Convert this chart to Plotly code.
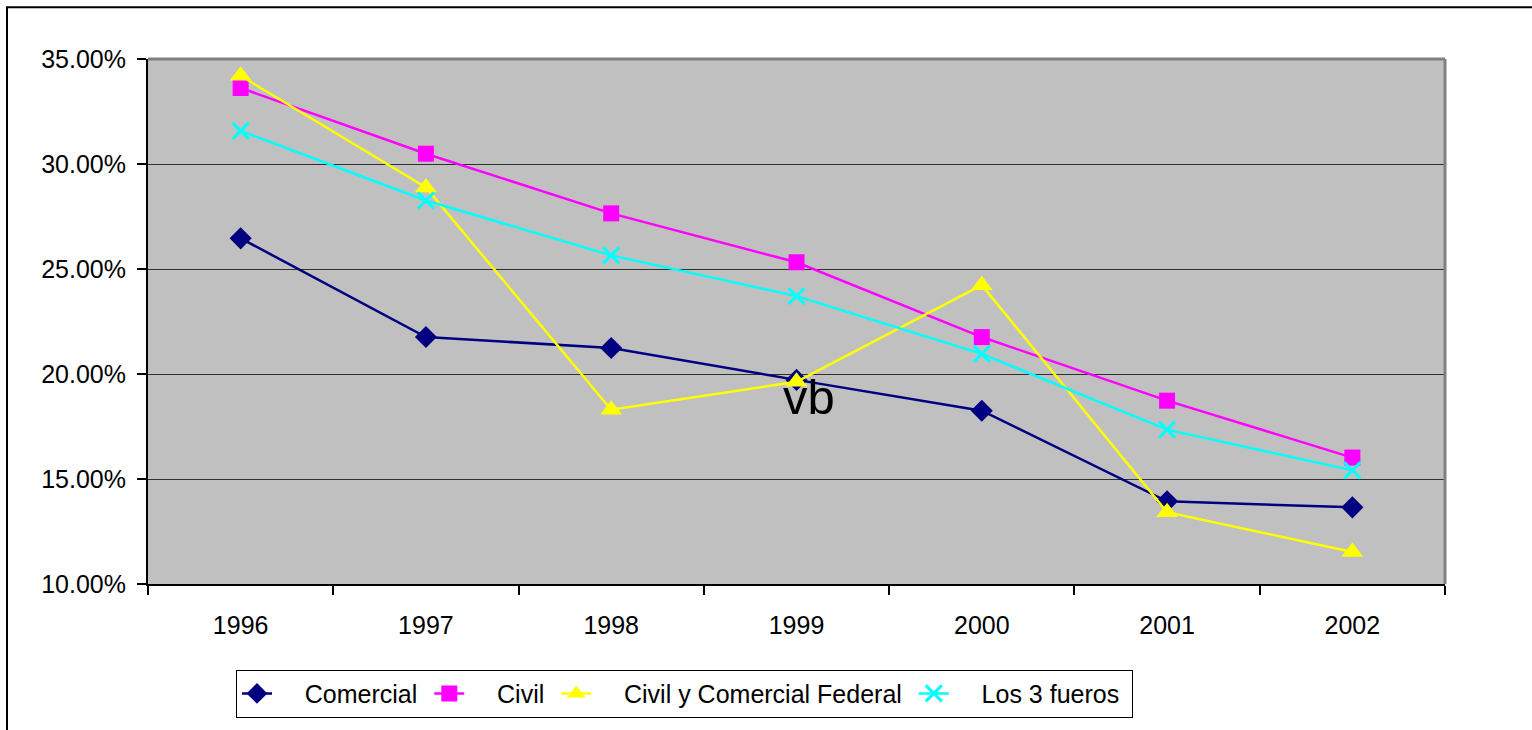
import plotly.graph_objects as go

years = ["1996", "1997", "1998", "1999", "2000", "2001", "2002"]
comercial = [0.2646, 0.2176, 0.2124, 0.1972, 0.1825, 0.1394, 0.1365]
civil = [0.3362, 0.3049, 0.2765, 0.2532, 0.2176, 0.1873, 0.1602]
civil_com_fed = [0.3420, 0.2888, 0.1830, 0.1963, 0.2423, 0.1342, 0.1152]
los3 = [0.3158, 0.2826, 0.2565, 0.2371, 0.2096, 0.1735, 0.1541]

NB = "\u00a0"
series = [
    ("Comercial", comercial, "#000080", "diamond", 17),
    ("Civil", civil, "#FF00FF", "square", 16),
    ("Civil y Comercial Federal", civil_com_fed, "#FFFF00", "triangle-up", 19),
    ("Los 3 fueros", los3, "#00FFFF", "x-thin-open", 16),
]

fig = go.Figure()
for name, vals, color, sym, size in series:
    marker = dict(symbol=sym, size=size, color=color)
    if sym == "x-thin-open":
        marker = dict(symbol=sym, size=size, color=color, line=dict(width=3, color=color))
    fig.add_trace(go.Scatter(
        x=years, y=vals, name=NB * 4 + name + NB, mode="lines+markers",
        line=dict(color=color, width=2.5), marker=marker,
    ))

L, R, T, B = 148, 1445, 59, 586
W, H = 1532, 730
pw, ph = R - L, B - T

def px_x(p):
    return (p - L) / pw

def px_y(p):
    return (B - p) / ph

fig.update_layout(
    width=W, height=H,
    margin=dict(l=L, r=W - R, t=T, b=H - B, pad=0),
    paper_bgcolor="white",
    plot_bgcolor="#C0C0C0",
    font=dict(family="Arial, Liberation Sans, sans-serif", size=25, color="black"),
    showlegend=True,
    legend=dict(
        orientation="h", x=px_x(236), y=px_y(672), xanchor="left", yanchor="top",
        bgcolor="white", bordercolor="black", borderwidth=1,
        font=dict(size=25), itemwidth=30, tracegroupgap=0,
    ),
    xaxis=dict(
        type="category", tickson="boundaries", ticks="outside", ticklen=9,
        tickcolor="black", tickwidth=1.5, showline=True, linecolor="black", linewidth=2,
        showgrid=False, zeroline=False, range=[-0.5, 6.5],
        tickfont=dict(size=25), ticklabelstandoff=18,
    ),
    yaxis=dict(
        range=[0.10, 0.35], dtick=0.05, tick0=0.10, tickformat=".2%",
        ticks="outside", ticklen=9, tickcolor="black", tickwidth=1.5,
        showline=True, linecolor="black", linewidth=2,
        showgrid=True, gridcolor="#303030", gridwidth=1.2, zeroline=False,
        tickfont=dict(size=25), ticklabelstandoff=6,
    ),
    shapes=[
        dict(type="line", xref="paper", yref="paper", x0=0, x1=1, y0=1, y1=1,
             line=dict(color="#808080", width=3)),
        dict(type="line", xref="paper", yref="paper", x0=1, x1=1, y0=0, y1=1,
             line=dict(color="#808080", width=3)),
        dict(type="rect", xref="paper", yref="paper",
             x0=px_x(7), x1=px_x(1545), y0=px_y(7), y1=px_y(745),
             line=dict(color="black", width=2), layer="below"),
    ],
    annotations=[
        dict(text="vb", xref="paper", yref="paper", x=px_x(809), y=px_y(398),
             xanchor="center", yanchor="middle", showarrow=False,
             font=dict(size=49, color="black")),
    ],
)

fig.write_html("out.html", config={"displayModeBar": False},
               post_script="document.body.style.margin='0';")
